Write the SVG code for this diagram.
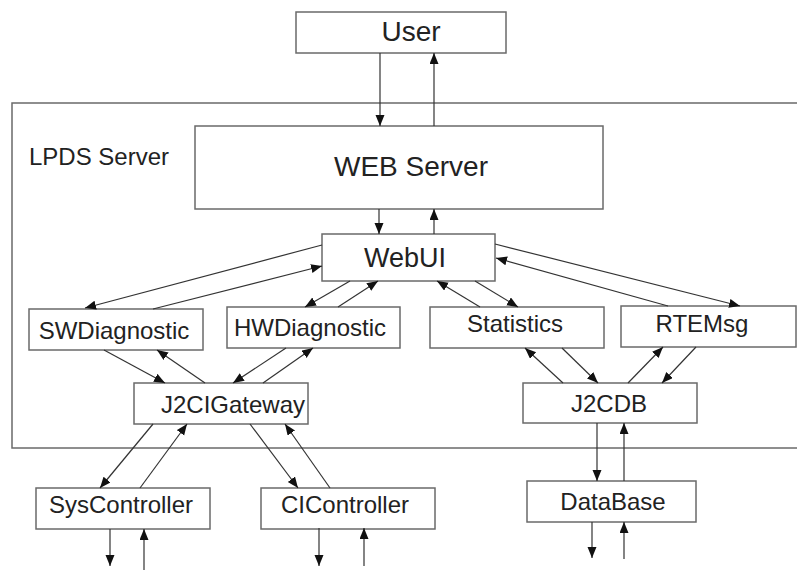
<svg xmlns="http://www.w3.org/2000/svg" width="797" height="570" viewBox="0 0 797 570">
<defs>
<marker id="ah" markerUnits="userSpaceOnUse" markerWidth="12" markerHeight="10" refX="11" refY="4.5" orient="auto">
<path d="M0,0 L11,4.5 L0,9 z" fill="#111"/>
</marker>
<style>
.box{fill:#fff;stroke:#6a6a6a;stroke-width:1.5}
.t{font-family:"Liberation Sans",Arial,sans-serif;fill:#222;font-size:24px;text-anchor:middle}
.big{font-size:28px}
.c line{stroke:#333;stroke-width:1.2;marker-end:url(#ah)}
.c line.n{marker-end:none}
</style>
</defs>
<rect width="797" height="570" fill="#fff"/>
<g id="lpds">
<rect x="12" y="103" width="800" height="345" fill="none" stroke="#6a6a6a" stroke-width="1.5"/>
<text class="t" x="29" y="165" style="text-anchor:start">LPDS Server</text>
</g>
<g id="user"><rect class="box" x="296" y="12" width="210" height="41"/><text class="t big" x="411" y="41">User</text></g>
<g id="webserver"><rect class="box" x="195" y="126" width="408" height="83"/><text class="t big" x="411" y="176">WEB Server</text></g>
<g id="webui"><rect class="box" x="322" y="234" width="173" height="47"/><text class="t" style="font-size:27px" x="405" y="267">WebUI</text></g>
<g id="swdiag"><rect class="box" x="29" y="309" width="174" height="41"/><text class="t" x="114" y="339">SWDiagnostic</text></g>
<g id="hwdiag"><rect class="box" x="227" y="307" width="173" height="41"/><text class="t" x="310" y="336">HWDiagnostic</text></g>
<g id="statistics"><rect class="box" x="430" y="307" width="174" height="41"/><text class="t" x="515" y="332">Statistics</text></g>
<g id="rtemsg"><rect class="box" x="621" y="306" width="175" height="41"/><text class="t" x="702" y="332">RTEMsg</text></g>
<g id="j2cigateway"><rect class="box" x="134" y="383" width="174" height="41"/><text class="t" x="233" y="413">J2CIGateway</text></g>
<g id="j2cdb"><rect class="box" x="523" y="383" width="174" height="40"/><text class="t" x="609" y="412">J2CDB</text></g>
<g id="syscontroller"><rect class="box" x="36" y="488" width="174" height="41"/><text class="t" x="121" y="513">SysController</text></g>
<g id="cicontroller"><rect class="box" x="261" y="488" width="174" height="41"/><text class="t" x="345" y="513">CIController</text></g>
<g id="database"><rect class="box" x="527" y="481" width="169" height="41"/><text class="t" x="613" y="510">DataBase</text></g>
<g id="connectors" class="c">
<line x1="380" y1="53" x2="380" y2="126"/>
<line x1="434" y1="126" x2="434" y2="53"/>
<line x1="379" y1="209" x2="379" y2="234"/>
<line x1="434" y1="234" x2="434" y2="209"/>
<line x1="322" y1="245" x2="85" y2="308"/>
<line x1="153" y1="309" x2="322" y2="266"/>
<line x1="350" y1="281" x2="305" y2="307"/>
<line x1="338" y1="307" x2="378" y2="281"/>
<line x1="480" y1="307" x2="437" y2="281"/>
<line x1="475" y1="281" x2="518" y2="307"/>
<line x1="495" y1="244" x2="740" y2="306"/>
<line x1="668" y1="306" x2="496" y2="258"/>
<line x1="104" y1="350" x2="165" y2="383"/>
<line x1="205" y1="383" x2="157" y2="350"/>
<line x1="286" y1="348" x2="233" y2="383"/>
<line x1="263" y1="383" x2="313" y2="348"/>
<line x1="563" y1="383" x2="525" y2="348"/>
<line x1="562" y1="348" x2="598" y2="383"/>
<line x1="628" y1="383" x2="663" y2="347"/>
<line x1="696" y1="347" x2="662" y2="383"/>
<line x1="153" y1="424" x2="100" y2="488"/>
<line x1="140" y1="488" x2="187" y2="424"/>
<line x1="250" y1="424" x2="298" y2="488"/>
<line x1="330" y1="488" x2="285" y2="424"/>
<line x1="597" y1="423" x2="597" y2="481"/>
<line x1="624" y1="481" x2="624" y2="423"/>
<line x1="110" y1="529" x2="110" y2="566"/>
<line x1="144" y1="570" x2="144" y2="529"/>
<line x1="319" y1="528" x2="319" y2="566"/>
<line x1="364" y1="566" x2="364" y2="528"/>
<line x1="592" y1="522" x2="592" y2="558"/>
<line x1="624" y1="559" x2="624" y2="522"/>
</g>
</svg>
